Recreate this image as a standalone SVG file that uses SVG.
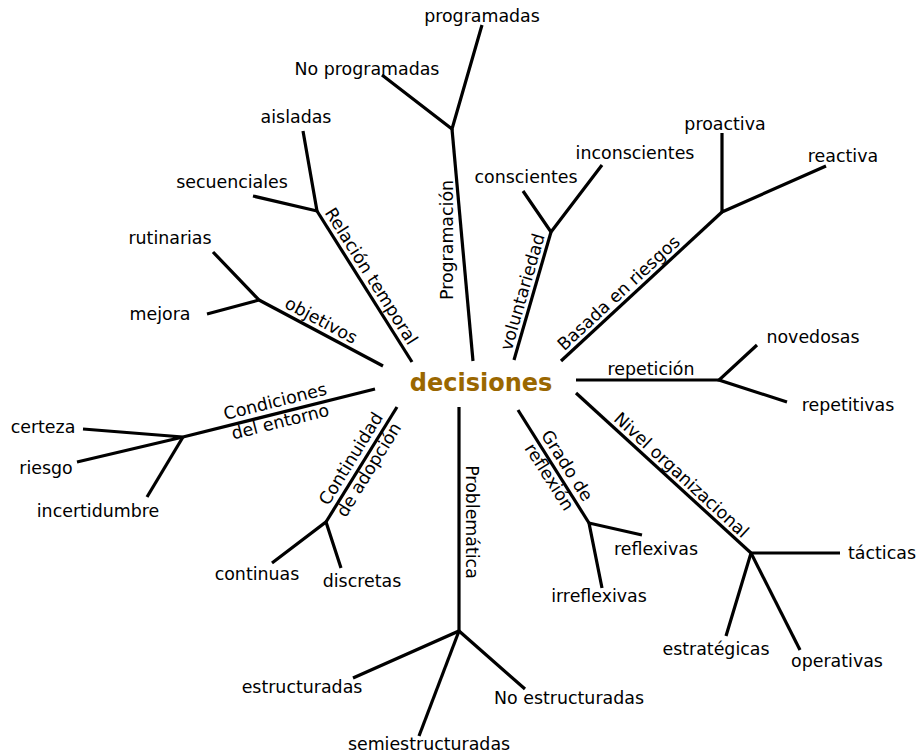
<svg xmlns="http://www.w3.org/2000/svg" width="917" height="754" viewBox="0 0 917 754">
  <style>
    .t { font-family: "DejaVu Sans", Verdana, sans-serif; font-size: 17.4px; fill: #000; text-anchor: middle; }
    .hub { font-family: "DejaVu Sans", Verdana, sans-serif; font-size: 24px; font-weight: bold; fill: #9a6700; text-anchor: middle; }
    .ln { stroke: #000; stroke-width: 3.2; fill: none; stroke-linejoin: miter; }
  </style>
  <rect width="917" height="754" fill="#fff"/>

  <!-- branches -->
  <g id="connectors" class="ln">
    <!-- Programación -->
    <line x1="473" y1="361" x2="452" y2="129"/>
    <polyline points="382,75 452,129 482,25"/>
    <!-- Relación temporal -->
    <line x1="412" y1="362" x2="317" y2="211"/>
    <polyline points="253,196 317,211 303,131"/>
    <!-- objetivos -->
    <line x1="383" y1="366" x2="259" y2="300"/>
    <polyline points="213,252 259,300 207,314"/>
    <!-- Condiciones del entorno -->
    <line x1="375" y1="389" x2="183" y2="437"/>
    <polyline points="83,429 183,437 77,462"/>
    <line x1="183" y1="437" x2="147" y2="497"/>
    <!-- Continuidad de adopción -->
    <line x1="397" y1="407" x2="326" y2="522"/>
    <polyline points="272,563 326,522 341,568"/>
    <!-- Problemática -->
    <line x1="459" y1="407" x2="459" y2="631"/>
    <polyline points="353,678 459,631 525,689"/>
    <line x1="459" y1="631" x2="419" y2="736"/>
    <!-- Grado de reflexión -->
    <line x1="518" y1="410" x2="589" y2="523"/>
    <polyline points="642,535 589,523 602,588"/>
    <!-- Nivel organizacional -->
    <line x1="576" y1="393" x2="751" y2="553"/>
    <polyline points="840,553 751,553 726,636"/>
    <line x1="751" y1="553" x2="800" y2="650"/>
    <!-- repetición -->
    <line x1="576" y1="380" x2="719" y2="380"/>
    <polyline points="757,345 719,380 787,402"/>
    <!-- Basada en riesgos -->
    <line x1="561" y1="361" x2="722" y2="212"/>
    <polyline points="722,133 722,212 826,166"/>
    <!-- voluntariedad -->
    <line x1="514" y1="360" x2="551" y2="232"/>
    <polyline points="523,191 551,232 602,165"/>
  </g>

  <g id="decisiones"><text class="hub" x="481" y="391">decisiones</text></g>

  <!-- branch labels -->
  <g id="programacion"><text class="t" transform="translate(458,240) rotate(-90)" y="-5">Programación</text></g>
  <g id="relacion-temporal"><text class="t" transform="translate(362,282) rotate(57.8)" y="-5">Relación temporal</text></g>
  <g id="objetivos"><text class="t" transform="translate(316,330) rotate(28.2)" y="-5">objetivos</text></g>
  <g id="condiciones-entorno">
    <text class="t" transform="translate(278,413) rotate(-14)" y="-6">Condiciones</text>
    <text class="t" transform="translate(278,413) rotate(-14)" y="15">del entorno</text>
  </g>
  <g id="continuidad-adopcion">
    <text class="t" transform="translate(361,465) rotate(-58.3)" y="-6">Continuidad</text>
    <text class="t" transform="translate(361,465) rotate(-58.3)" y="15">de adopción</text>
  </g>
  <g id="problematica"><text class="t" transform="translate(459,522) rotate(90)" y="-7">Problemática</text></g>
  <g id="grado-reflexion">
    <text class="t" transform="translate(557,472) rotate(57.5)" y="-6">Grado de</text>
    <text class="t" transform="translate(557,472) rotate(57.5)" y="15">reflexión</text>
  </g>
  <g id="nivel-organizacional"><text class="t" transform="translate(674,483) rotate(42.6)" y="-5">Nivel organizacional</text></g>
  <g id="repeticion"><text class="t" x="651" y="375">repetición</text></g>
  <g id="basada-riesgos"><text class="t" transform="translate(626,301) rotate(-42.8)" y="-5">Basada en riesgos</text></g>
  <g id="voluntariedad"><text class="t" transform="translate(533,295) rotate(-73.9)" y="-5">voluntariedad</text></g>

  <!-- leaf labels -->
  <g id="programadas"><text class="t" x="482" y="22">programadas</text></g>
  <g id="no-programadas"><text class="t" x="367" y="75">No programadas</text></g>
  <g id="aisladas"><text class="t" x="296" y="123">aisladas</text></g>
  <g id="secuenciales"><text class="t" x="232" y="188">secuenciales</text></g>
  <g id="rutinarias"><text class="t" x="170" y="244">rutinarias</text></g>
  <g id="mejora"><text class="t" x="160" y="320">mejora</text></g>
  <g id="certeza"><text class="t" x="43" y="433">certeza</text></g>
  <g id="riesgo"><text class="t" x="46" y="474">riesgo</text></g>
  <g id="incertidumbre"><text class="t" x="98" y="517">incertidumbre</text></g>
  <g id="continuas"><text class="t" x="257" y="580">continuas</text></g>
  <g id="discretas"><text class="t" x="362" y="587">discretas</text></g>
  <g id="estructuradas"><text class="t" x="302" y="693">estructuradas</text></g>
  <g id="semiestructuradas"><text class="t" x="429" y="750">semiestructuradas</text></g>
  <g id="no-estructuradas"><text class="t" x="569" y="704">No estructuradas</text></g>
  <g id="irreflexivas"><text class="t" x="599" y="602">irreflexivas</text></g>
  <g id="reflexivas"><text class="t" x="656" y="555">reflexivas</text></g>
  <g id="tacticas"><text class="t" x="882" y="559">tácticas</text></g>
  <g id="estrategicas"><text class="t" x="716" y="655">estratégicas</text></g>
  <g id="operativas"><text class="t" x="837" y="667">operativas</text></g>
  <g id="repetitivas"><text class="t" x="848" y="411">repetitivas</text></g>
  <g id="novedosas"><text class="t" x="813" y="343">novedosas</text></g>
  <g id="reactiva"><text class="t" x="843" y="162">reactiva</text></g>
  <g id="proactiva"><text class="t" x="725" y="130">proactiva</text></g>
  <g id="inconscientes"><text class="t" x="635" y="159">inconscientes</text></g>
  <g id="conscientes"><text class="t" x="526" y="183">conscientes</text></g>
</svg>
